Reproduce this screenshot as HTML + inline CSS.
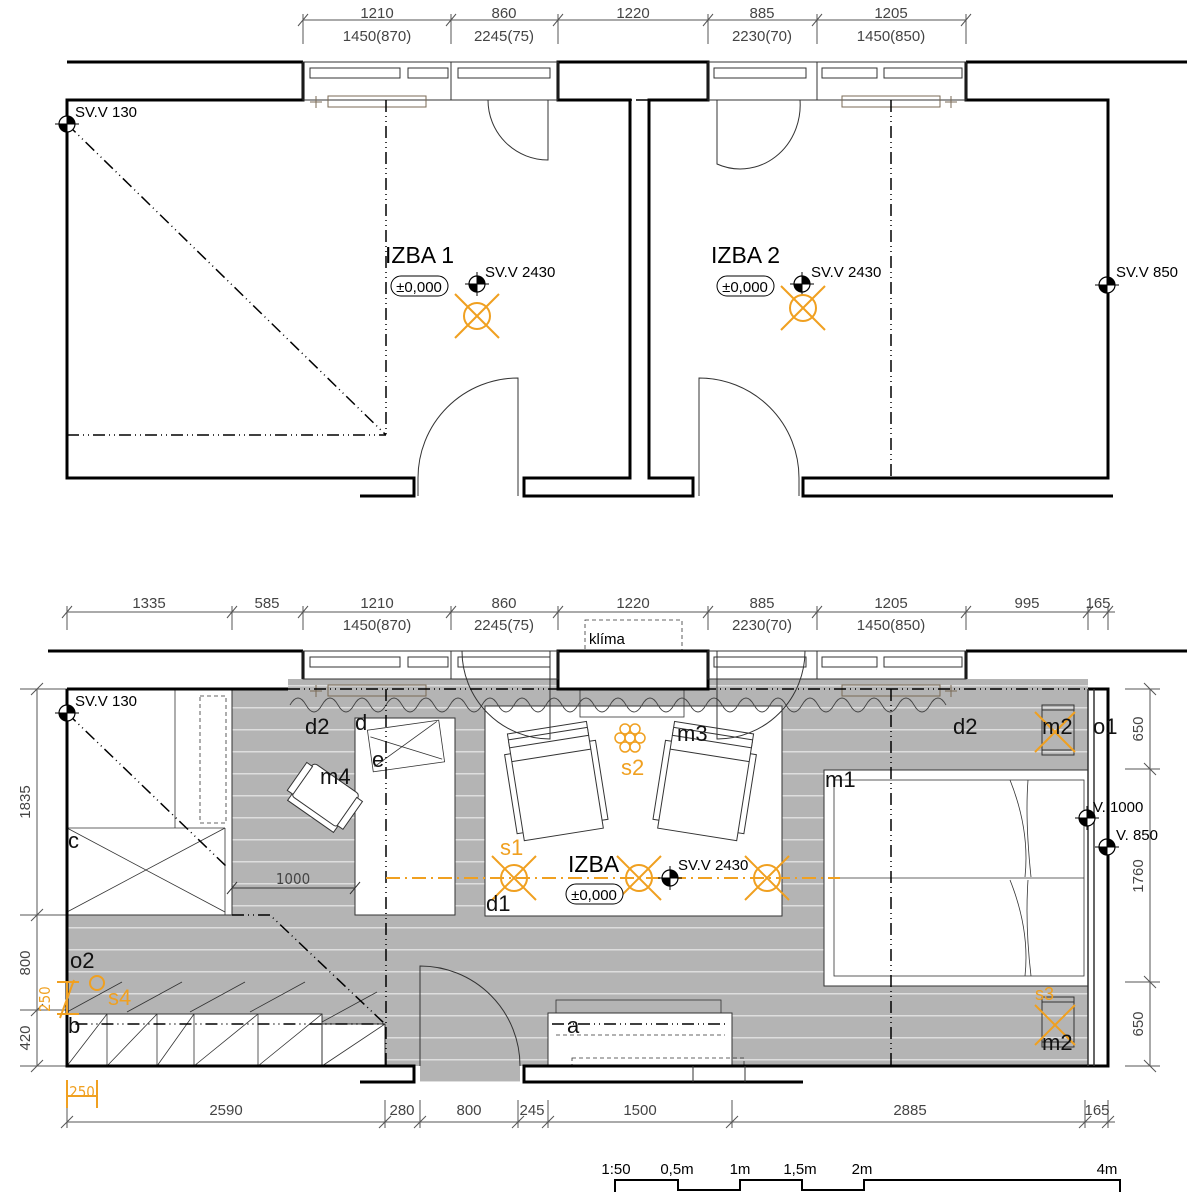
<!DOCTYPE html>
<html><head><meta charset="utf-8"><style>
html,body{margin:0;padding:0;background:#fff}
svg{display:block}
text{font-family:"Liberation Sans",sans-serif}
.dim{font-family:"DejaVu Sans Condensed","Liberation Sans Narrow","Liberation Sans",sans-serif;font-size:15px;fill:#444;font-stretch:condensed}
.lbl{font-size:22px;fill:#111}
.org{fill:#f0a020}
</style></head><body>
<svg width="1187" height="1200" viewBox="0 0 1187 1200" xmlns="http://www.w3.org/2000/svg">
<defs>
<g id="mk"><circle r="8" fill="#fff" stroke="#000" stroke-width="1.2"/><path d="M0,0 L8,0 A8,8 0 0,0 0,-8Z M0,0 L-8,0 A8,8 0 0,0 0,8Z" fill="#000"/><line x1="-12" y1="0" x2="12" y2="0" stroke="#000"/><line x1="0" y1="-12" x2="0" y2="12" stroke="#000"/></g>
<g id="lt" stroke="#f0a020" stroke-width="2" fill="none"><circle r="13"/><line x1="-22" y1="-22" x2="22" y2="22"/><line x1="22" y1="-22" x2="-22" y2="22"/></g>
<g id="chair" fill="#fff" stroke="#333" stroke-width="1">
<rect x="-46" y="-38" width="10" height="80"/><rect x="36" y="-38" width="10" height="80"/>
<rect x="-40" y="-50" width="80" height="100"/><rect x="-40" y="-58" width="80" height="14"/>
<line x1="-40" y1="-52" x2="40" y2="-52"/><line x1="-40" y1="-30" x2="40" y2="-30"/>
</g>
<pattern id="flr" width="10" height="22" patternUnits="userSpaceOnUse" y="3"><rect width="10" height="22" fill="#b4b4b4"/><rect y="0" width="10" height="1.5" fill="#dedede"/></pattern>
</defs>

<!-- ================= TOP PLAN ================= -->
<g stroke="#555" stroke-width="1" fill="none">
<line x1="303" y1="20" x2="966" y2="20"/>
<line x1="303" y1="14" x2="303" y2="44"/><line x1="451" y1="14" x2="451" y2="44"/><line x1="558" y1="14" x2="558" y2="44"/><line x1="708" y1="14" x2="708" y2="44"/><line x1="817" y1="14" x2="817" y2="44"/><line x1="966" y1="14" x2="966" y2="44"/>
<path d="M298,26l10,-12M446,26l10,-12M553,26l10,-12M703,26l10,-12M812,26l10,-12M961,26l10,-12"/>
</g>
<g class="dim" text-anchor="middle">
<text x="377" y="18">1210</text><text x="377" y="41">1450(870)</text>
<text x="504" y="18">860</text><text x="504" y="41">2245(75)</text>
<text x="633" y="18">1220</text>
<text x="762" y="18">885</text><text x="762" y="41">2230(70)</text>
<text x="891" y="18">1205</text><text x="891" y="41">1450(850)</text>
</g>
<g stroke="#000" stroke-width="3" fill="none">
<line x1="67" y1="62" x2="303" y2="62"/>
<path d="M303,62 V100 H67 V478 H414 V496 H360"/>
<line x1="303" y1="62" x2="558" y2="62" stroke-width="1"/>
<path d="M558,62 V100 H630 V478 H524 V496 H693 V478 H649 V100 H708 V62 Z"/>
<line x1="708" y1="62" x2="966" y2="62" stroke-width="1"/>
<path d="M966,62 V100 H1108 V478 H803 V496 H1113"/>
<line x1="966" y1="62" x2="1187" y2="62"/>
<line x1="414" y1="478" x2="414" y2="496"/>
</g>
<g stroke="#333" stroke-width="1" fill="none">
<rect x="303" y="62" width="255" height="38"/><rect x="708" y="62" width="258" height="38"/>
<rect x="310" y="68" width="90" height="10"/><rect x="408" y="68" width="40" height="10"/><rect x="458" y="68" width="92" height="10"/>
<rect x="714" y="68" width="92" height="10"/><rect x="822" y="68" width="55" height="10"/><rect x="884" y="68" width="78" height="10"/>
<line x1="451" y1="62" x2="451" y2="100"/><line x1="817" y1="62" x2="817" y2="100"/>
<rect x="328" y="96" width="98" height="11" stroke="#7a6a55"/><rect x="842" y="96" width="98" height="11" stroke="#7a6a55"/>
<path d="M310,102h12M316,96v12M945,102h12M951,96v12" stroke="#7a6a55"/>
<path d="M548,100 V160 A60,60 0 0,1 488,100"/>
<path d="M717,100 V164 A60,64 0 0,0 800,100" />
<path d="M518,478 V378 A100,100 0 0,0 418,478"/>
<path d="M699,478 V378 A100,100 0 0,1 799,478"/>
<line x1="418" y1="478" x2="418" y2="496"/><line x1="518" y1="478" x2="518" y2="496"/>
<line x1="699" y1="478" x2="699" y2="496"/><line x1="799" y1="478" x2="799" y2="496"/>
</g>
<g stroke="#000" stroke-width="1.5" fill="none" stroke-dasharray="12 4 1 4 1 4">
<line x1="67" y1="124" x2="386" y2="435"/><line x1="67" y1="435" x2="386" y2="435"/>
<line x1="386" y1="100" x2="386" y2="435"/>
<line x1="891" y1="100" x2="891" y2="478"/>
<line x1="558" y1="100" x2="708" y2="100"/>
</g>
<text x="75" y="117" font-size="15">SV.V 130</text><use href="#mk" x="67" y="124"/>
<text x="385" y="263" font-size="23">IZBA 1</text>
<rect x="391" y="276" width="57" height="20" rx="10" fill="#fff" stroke="#000"/><text x="419" y="292" font-size="15" text-anchor="middle">±0,000</text>
<use href="#mk" x="477" y="284"/><text x="485" y="277" font-size="15">SV.V 2430</text>
<use href="#lt" x="477" y="316"/>
<text x="711" y="263" font-size="23">IZBA 2</text>
<rect x="717" y="276" width="57" height="20" rx="10" fill="#fff" stroke="#000"/><text x="745" y="292" font-size="15" text-anchor="middle">±0,000</text>
<use href="#mk" x="802" y="284"/><text x="811" y="277" font-size="15">SV.V 2430</text>
<use href="#lt" x="803" y="308"/>
<use href="#mk" x="1107" y="285"/><text x="1116" y="277" font-size="15">SV.V 850</text>

<!-- ================= BOTTOM PLAN ================= -->
<g stroke="#555" stroke-width="1" fill="none">
<line x1="67" y1="612" x2="1115" y2="612"/>
<path d="M67,606v24M232,606v24M303,606v24M451,606v24M558,606v24M708,606v24M817,606v24M966,606v24M1088,606v24M1108,606v24"/>
<path d="M62,618l10,-12M227,618l10,-12M298,618l10,-12M446,618l10,-12M553,618l10,-12M703,618l10,-12M812,618l10,-12M961,618l10,-12M1083,618l10,-12M1103,618l10,-12"/>
<line x1="37" y1="689" x2="37" y2="1066"/>
<path d="M20,689h60M20,915h50M20,1010h50M20,1066h50"/>
<path d="M31,695l12,-12M31,921l12,-12M31,1016l12,-12M31,1072l12,-12"/>
<line x1="1150" y1="689" x2="1150" y2="1066"/>
<path d="M1125,689h35M1125,769h35M1125,982h35M1125,1066h35"/>
<path d="M1144,683l12,12M1144,763l12,12M1144,976l12,12M1144,1060l12,12"/>
<line x1="67" y1="1122" x2="1115" y2="1122"/>
<path d="M67,1100v28M385,1100v28M420,1100v28M518,1100v28M548,1100v28M732,1100v28M1085,1100v28M1108,1100v28"/>
<path d="M61,1128l12,-12M379,1128l12,-12M414,1128l12,-12M512,1128l12,-12M542,1128l12,-12M726,1128l12,-12M1079,1128l12,-12M1102,1128l12,-12"/>
</g>
<g class="dim" text-anchor="middle">
<text x="149" y="608">1335</text><text x="267" y="608">585</text>
<text x="377" y="608">1210</text><text x="377" y="630">1450(870)</text>
<text x="504" y="608">860</text><text x="504" y="630">2245(75)</text>
<text x="633" y="608">1220</text>
<text x="762" y="608">885</text><text x="762" y="630">2230(70)</text>
<text x="891" y="608">1205</text><text x="891" y="630">1450(850)</text>
<text x="1027" y="608">995</text><text x="1098" y="608">165</text>
<text x="226" y="1115">2590</text><text x="402" y="1115">280</text><text x="469" y="1115">800</text><text x="532" y="1115">245</text><text x="640" y="1115">1500</text><text x="910" y="1115">2885</text><text x="1097" y="1115">165</text>
<text transform="translate(30,802) rotate(-90)">1835</text>
<text transform="translate(30,963) rotate(-90)">800</text>
<text transform="translate(30,1038) rotate(-90)">420</text>
<text transform="translate(1143,729) rotate(-90)">650</text>
<text transform="translate(1143,876) rotate(-90)">1760</text>
<text transform="translate(1143,1024) rotate(-90)">650</text>
</g>

<rect x="288" y="679" width="800" height="10" fill="url(#flr)"/>
<rect x="67" y="689" width="1021" height="377" fill="url(#flr)"/>
<rect x="420" y="1066" width="100" height="16" fill="url(#flr)"/>
<g fill="#fff" stroke="#333" stroke-width="1">
<rect x="67" y="689" width="165" height="226"/>
<rect x="485" y="706" width="297" height="210"/>
<rect x="355" y="718" width="100" height="197"/>
<rect x="824" y="770" width="264" height="216"/>
<rect x="67" y="1014" width="255" height="52"/><rect x="322" y="1024" width="63" height="42"/>
<rect x="548" y="1013" width="184" height="53"/>
</g>
<g stroke="#333" stroke-width="0.8" fill="none">
<line x1="175" y1="689" x2="175" y2="828"/><line x1="67" y1="828" x2="225" y2="828"/>
<rect x="200" y="696" width="26" height="127" stroke-dasharray="4 3"/>
<line x1="67" y1="828" x2="225" y2="912"/><line x1="225" y1="828" x2="67" y2="912"/>
<line x1="225" y1="828" x2="225" y2="915"/>
<path d="M107,1014v52M157,1014v52M194,1014v52M258,1014v52M322,1014v52"/>
<path d="M67,1066l40,-52M107,1066l50,-52M157,1066l37,-52M194,1066l64,-52M258,1066l64,-52M322,1066l63,-42"/>
<path d="M67,1012l55,-30M127,1012l55,-30M190,1012l55,-30M250,1012l55,-30M322,1022l55,-30"/>
<rect x="834" y="780" width="250" height="196"/><line x1="834" y1="878" x2="1084" y2="878"/>
<path d="M1028,780 q-3,40 3,97 M1028,880 q-3,45 3,96"/>
<path d="M1010,780 q20,50 15,97 M1010,880 q20,50 15,96"/>
<rect x="556" y="1000" width="165" height="13"/>
<line x1="556" y1="1035" x2="725" y2="1035" stroke-dasharray="4 3"/>
<rect x="572" y="1058" width="172" height="8" stroke-dasharray="4 3"/>
<rect x="370" y="725" width="72" height="42" transform="rotate(-8 406 746)"/>
<path d="M372,732L440,764M440,726L372,762" transform="rotate(-8 406 746)"/>
<rect x="580" y="689" width="104" height="28"/>
<rect x="585" y="620" width="97" height="33" stroke-dasharray="4 3"/>
</g>
<use href="#chair" transform="translate(556,785) rotate(-9)"/>
<use href="#chair" transform="translate(705,785) rotate(9)"/>
<g transform="translate(322,800) rotate(35)" fill="#fff" stroke="#333" stroke-width="1">
<path d="M-28,-10 A30,30 0 0,0 28,-10 L28,20 L-28,20Z"/>
<rect x="-28" y="-26" width="56" height="40" rx="4"/>
<rect x="-34" y="-22" width="7" height="34"/><rect x="27" y="-22" width="7" height="34"/>
</g>
<path d="M290,705 q8,-14 16,0 t16,0 t16,0 t16,0 t16,0 t16,0 t16,0 t16,0 t16,0 t16,0 t16,0 t16,0 t16,0 t16,0 t16,0 t16,0 t16,0 t16,0 t16,0 t16,0 t16,0 t16,0 t16,0 t16,0 t16,0 t16,0 t16,0 t16,0 t16,0 t16,0 t16,0 t16,0 t16,0 t16,0 t16,0 t16,0 t16,0 t16,0 t16,0 t16,0 t16,0" fill="none" stroke="#444" stroke-width="0.9"/>
<g stroke="#000" stroke-width="3" fill="none">
<line x1="48" y1="651" x2="303" y2="651"/>
<path d="M303,651 V679"/>
<line x1="67" y1="689" x2="288" y2="689"/>
<path d="M67,689 V1066 H414 V1082 H360"/>
<rect x="558" y="651" width="150" height="38" fill="#fff"/>
<path d="M966,651 V679 M966,651 H1187"/>
<path d="M1088,689 H1108 V1066 H524 V1082 H803"/>
<line x1="414" y1="1066" x2="414" y2="1082"/>
<line x1="524" y1="1066" x2="524" y2="1082"/>
</g>
<g stroke="#333" stroke-width="1" fill="none">
<line x1="303" y1="651" x2="558" y2="651"/><line x1="708" y1="651" x2="966" y2="651"/>
<rect x="303" y="651" width="255" height="28"/><rect x="708" y="651" width="258" height="28"/>
<rect x="310" y="657" width="90" height="10"/><rect x="408" y="657" width="40" height="10"/><rect x="458" y="657" width="92" height="10"/>
<rect x="714" y="657" width="92" height="10"/><rect x="822" y="657" width="55" height="10"/><rect x="884" y="657" width="78" height="10"/>
<line x1="451" y1="651" x2="451" y2="679"/><line x1="817" y1="651" x2="817" y2="679"/>
<rect x="328" y="685" width="98" height="11" stroke="#7a6a55"/><rect x="842" y="685" width="98" height="11" stroke="#7a6a55"/>
<path d="M310,691h12M316,685v12M945,691h12M951,685v12" stroke="#7a6a55"/>
<line x1="1094" y1="689" x2="1094" y2="1066" stroke-width="1.5"/>
<line x1="1088" y1="689" x2="1088" y2="1066" stroke-width="1.5"/>
<line x1="693" y1="1066" x2="693" y2="1082"/><line x1="745" y1="1066" x2="745" y2="1082"/>
<path d="M462,651 A88,88 0 0,0 550,739 V651"/>
<path d="M717,651 V739 A88,88 0 0,0 805,651"/>
<path d="M420,1066 V966 A100,100 0 0,1 520,1066"/>
<rect x="1042" y="705" width="32" height="50"/><path d="M1042,710h32M1042,750h32"/>
<rect x="1042" y="997" width="32" height="50"/><path d="M1042,1002h32M1042,1042h32"/>
</g>
<g stroke="#000" stroke-width="1.5" fill="none" stroke-dasharray="12 4 1 4 1 4">
<line x1="67" y1="713" x2="228" y2="868"/>
<path d="M232,915 H270 L385,1024 H67"/>
<line x1="386" y1="689" x2="386" y2="1066"/>
<line x1="891" y1="689" x2="891" y2="1066"/>
<line x1="288" y1="689" x2="1088" y2="689"/>
<line x1="552" y1="1024" x2="728" y2="1024"/>
</g>
<line x1="386" y1="878" x2="840" y2="878" stroke="#f0a020" stroke-width="2" stroke-dasharray="14 5 2 5"/>
<g stroke="#333" stroke-width="1"><line x1="232" y1="888" x2="355" y2="888"/><path d="M227,894l10,-12M350,894l10,-12"/></g>
<text x="293" y="884" class="dim" text-anchor="middle">1000</text>

<use href="#lt" x="514" y="878"/><use href="#lt" x="639" y="878"/><use href="#lt" x="767" y="878"/>
<use href="#mk" x="670" y="878"/>
<use href="#mk" x="67" y="713"/>
<use href="#mk" x="1087" y="818"/><use href="#mk" x="1107" y="847"/>
<g stroke="#f0a020" stroke-width="2" fill="none">
<path d="M1035,712l40,40M1075,712l-40,40M1035,1005l40,40M1075,1005l-40,40"/>
<circle cx="97" cy="983" r="7"/>
<g stroke-width="1.5"><circle cx="625" cy="729" r="5"/><circle cx="635" cy="729" r="5"/><circle cx="620" cy="738" r="5"/><circle cx="630" cy="738" r="5"/><circle cx="640" cy="738" r="5"/><circle cx="625" cy="747" r="5"/><circle cx="635" cy="747" r="5"/></g>
<path d="M67,982v32M57,982h22M57,1014h22M60,1018l14,-38M67,1080v28M67,1096h30M97,1080v28"/>
</g>
<g font-size="15">
<text x="75" y="706">SV.V 130</text>
<text x="678" y="870">SV.V 2430</text>
<text x="1093" y="812">V. 1000</text>
<text x="1116" y="840">V. 850</text>
<text x="589" y="644">klíma</text>
</g>
<text x="568" y="872" font-size="23">IZBA</text>
<rect x="566" y="884" width="57" height="20" rx="10" fill="#fff" stroke="#000"/><text x="594" y="900" font-size="15" text-anchor="middle">±0,000</text>
<g class="lbl">
<text x="305" y="734">d2</text><text x="355" y="730">d</text><text x="372" y="767">e</text><text x="320" y="784">m4</text>
<text x="68" y="848">c</text><text x="486" y="911">d1</text><text x="677" y="741">m3</text><text x="825" y="787">m1</text>
<text x="953" y="734">d2</text><text x="1042" y="734">m2</text><text x="1093" y="734">o1</text>
<text x="70" y="968">o2</text><text x="68" y="1033">b</text><text x="567" y="1033">a</text><text x="1042" y="1050">m2</text>
</g>
<g class="lbl org">
<text x="500" y="855">s1</text><text x="621" y="775">s2</text><text x="108" y="1005">s4</text><text x="1035" y="1000" font-size="18">s3</text>
</g>
<text x="82" y="1097" class="dim" text-anchor="middle" style="fill:#f0a020">250</text>
<text transform="translate(50,1012) rotate(-90)" class="dim" style="fill:#f0a020">250</text>

<path d="M615,1192 V1180 H678 V1190 H740 V1180 H802 V1190 H864 V1180 H1120 V1192" fill="none" stroke="#000" stroke-width="2"/>
<g font-size="15" text-anchor="middle"><text x="616" y="1174">1:50</text><text x="677" y="1174">0,5m</text><text x="740" y="1174">1m</text><text x="800" y="1174">1,5m</text><text x="862" y="1174">2m</text><text x="1107" y="1174">4m</text></g>
</svg>
</body></html>
